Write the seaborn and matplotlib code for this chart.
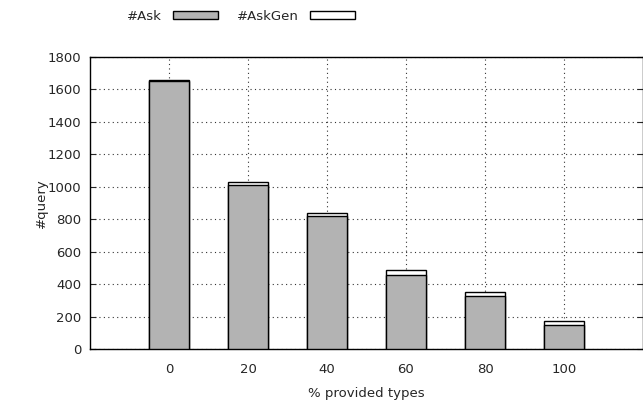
import pandas as pd
import seaborn as sns
import matplotlib.pyplot as plt
from matplotlib.patches import Patch

# values
provided = ['0', '20', '40', '60', '80', '100']
ask = [1650, 1010, 820, 455, 325, 150]
ask_gen = [6, 20, 20, 32, 24, 22]

df = pd.DataFrame({'provided': provided, 'ask': ask, 'ask_gen': ask_gen})
df['total'] = df['ask'] + df['ask_gen']

sns.set_style('ticks')
plt.rcParams['font.family'] = ['DejaVu Sans']

fig = plt.figure(figsize=(6.43, 4.0), dpi=100)
ax = fig.add_axes([90 / 643, 51 / 400, 553 / 643, 292 / 400])

sns.barplot(data=df, x='provided', y='total', order=provided, color='white',
            edgecolor='black', linewidth=1.0, width=0.5, ax=ax, zorder=3)
sns.barplot(data=df, x='provided', y='ask', order=provided, color='#b3b3b3',
            saturation=1, edgecolor='black', linewidth=1.0, width=0.5, ax=ax, zorder=4)

ax.set_xlim(-1, 6)
ax.set_ylim(0, 1800)
ax.set_yticks(range(0, 1801, 200))
ax.grid(True, linestyle=(0, (1, 3)), color='#333333', linewidth=0.8, zorder=0)
ax.set_axisbelow(True)
ax.tick_params(direction='in', length=4, labelsize=9.5, top=True, right=True,
               pad=6)
ax.tick_params(axis='x', length=0, pad=10)
for s in ax.spines.values():
    s.set_linewidth(1.0)
    s.set_color('black')

ax.set_xlabel('% provided types', fontsize=9.5, labelpad=8)
ax.set_ylabel('#query', fontsize=9.5)
ax.yaxis.set_label_coords(-42 / 553, 0.5)

handles = [Patch(facecolor='#b3b3b3', edgecolor='black', label='#Ask'),
           Patch(facecolor='white', edgecolor='black', label='#AskGen')]
ax.legend(handles=handles, ncol=2, frameon=False, markerfirst=False,
          loc='lower left', bbox_to_anchor=(0.058, 1.10), fontsize=9.5,
          handlelength=3.4, handleheight=0.55, columnspacing=1.5,
          handletextpad=0.8, borderaxespad=0)

plt.savefig('out.png', dpi=100)
